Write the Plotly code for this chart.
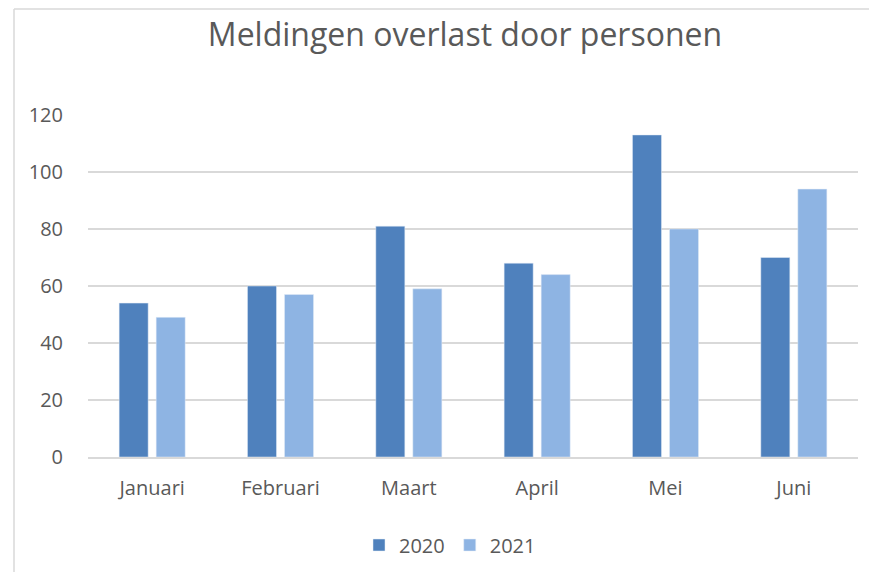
import plotly.graph_objects as go

months = ["Januari", "Februari", "Maart", "April", "Mei", "Juni"]
values_2020 = [54, 60, 81, 68, 113, 70]
values_2021 = [49, 57, 59, 64, 80, 94]
y_ticks = [0, 20, 40, 60, 80, 100, 120]

TXT = "#595959"
GRID = "#D9D9D9"
FONT = "Open Sans"

fig = go.Figure()
fig.add_bar(name="2020", x=months, y=values_2020, marker_color="#4F81BD")
fig.add_bar(name="2021", x=months, y=values_2021, marker_color="#8EB4E3")

W, H = 869, 572
L, R, T, B = 88, 11, 115, 115
fig.update_layout(
    width=W, height=H,
    margin=dict(l=L, r=R, t=T, b=B),
    paper_bgcolor="white", plot_bgcolor="white",
    barmode="group", bargap=0.423, bargroupgap=0.216,
    title=dict(text="Meldingen overlast door personen", x=465 / W, xanchor="center",
               y=1 - 35 / H, yanchor="middle",
               font=dict(family=FONT, size=32, color=TXT)),
    font=dict(family=FONT, size=20, color=TXT),
    legend=dict(orientation="h", x=450 / W, xanchor="center", xref="container",
                y=1 - 545 / H, yanchor="middle", yref="container",
                font=dict(family=FONT, size=20, color=TXT),
                itemwidth=30, traceorder="normal"),
    showlegend=True,
    xaxis=dict(showgrid=False, showline=True, linecolor=GRID, linewidth=1.5,
               ticks="", ticklabelstandoff=12, tickfont=dict(size=20, color=TXT)),
    yaxis=dict(range=[0, 120], tickvals=y_ticks, showgrid=True, gridcolor=GRID,
               gridwidth=1.5, zeroline=False, showline=False, ticks="",
               ticklabelstandoff=24, tickfont=dict(size=20, color=TXT)),
)

# outer chart border (left and top)
fig.add_shape(type="line", xref="paper", yref="paper",
              x0=(14 - L) / (W - L - R), x1=(14 - L) / (W - L - R),
              y0=(H - B - H) / (H - T - B), y1=(H - B - 9) / (H - T - B),
              line=dict(color=GRID, width=1.5))
fig.add_shape(type="line", xref="paper", yref="paper",
              x0=(14 - L) / (W - L - R), x1=(W - L) / (W - L - R),
              y0=(H - B - 9) / (H - T - B), y1=(H - B - 9) / (H - T - B),
              line=dict(color=GRID, width=1.5))

fig.write_html("out.html", config={"displayModeBar": False},
               post_script="document.body.style.margin='0';document.body.style.overflow='hidden';")
